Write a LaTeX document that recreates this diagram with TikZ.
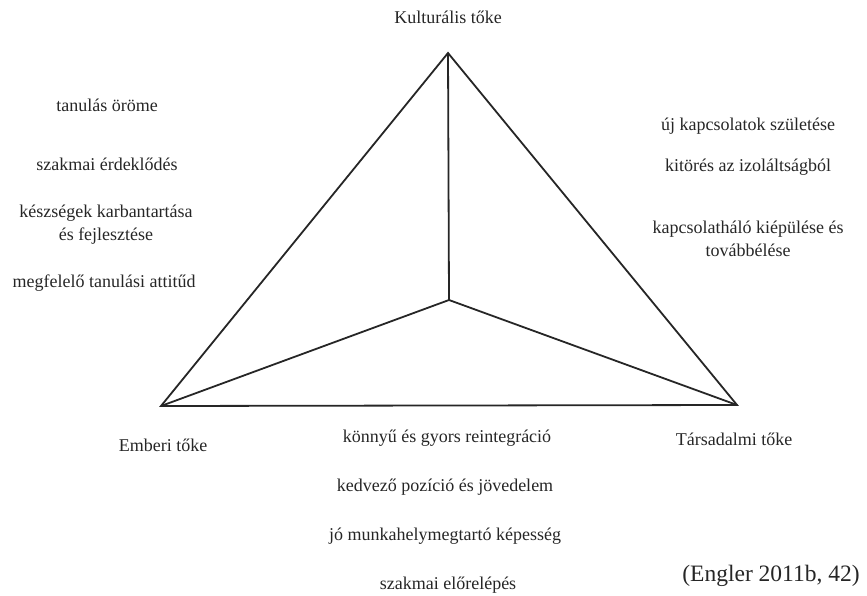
\documentclass[tikz,border=0pt]{standalone}
\usepackage{fontspec}
\setmainfont{Liberation Serif}
\begin{document}
\begin{tikzpicture}[x=1pt,y=-1pt,
  edge/.style={line width=1.8pt,draw=black!85,line join=miter},
  lbl/.style={font=\fontsize{18}{23}\selectfont,text=black!85,inner sep=0pt,align=center},
  cite/.style={font=\fontsize{23.5}{28}\selectfont,text=black!85,inner sep=0pt}]
\useasboundingbox (0,0) rectangle (867,596);
\coordinate (T) at (448,53);
\coordinate (L) at (161,406);
\coordinate (R) at (737,405);
\coordinate (C) at (449,300);
\draw[edge] (T) -- (L) -- (R) -- cycle;
\draw[edge] (T) -- (C);
\draw[edge] (L) -- (C);
\draw[edge] (R) -- (C);
\node[lbl] (kt) at (448,17) {Kulturális tőke};
\node[lbl] (et) at (163,445) {Emberi tőke};
\node[lbl] (tt) at (734,439) {Társadalmi tőke};
\node[lbl] (l1) at (107,105) {tanulás öröme};
\node[lbl] (l2) at (107,164) {szakmai érdeklődés};
\node[lbl] (l3) at (106,225) {készségek karbantartása\\és fejlesztése};
\node[lbl] (l4) at (104,283) {megfelelő tanulási attitűd};
\node[lbl] (r1) at (748,126) {új kapcsolatok születése};
\node[lbl] (r2) at (748,167) {kitörés az izoláltságból};
\node[lbl] (r3) at (748,239) {kapcsolatháló kiépülése és\\továbbélése};
\node[lbl] (b1) at (447,438) {könnyű és gyors reintegráció};
\node[lbl] (b2) at (445,487) {kedvező pozíció és jövedelem};
\node[lbl] (b3) at (445,536) {jó munkahelymegtartó képesség};
\node[lbl] (b4) at (448,585) {szakmai előrelépés};
\node[cite] (en) at (771,576) {(Engler 2011b, 42)};
\end{tikzpicture}
\end{document}
